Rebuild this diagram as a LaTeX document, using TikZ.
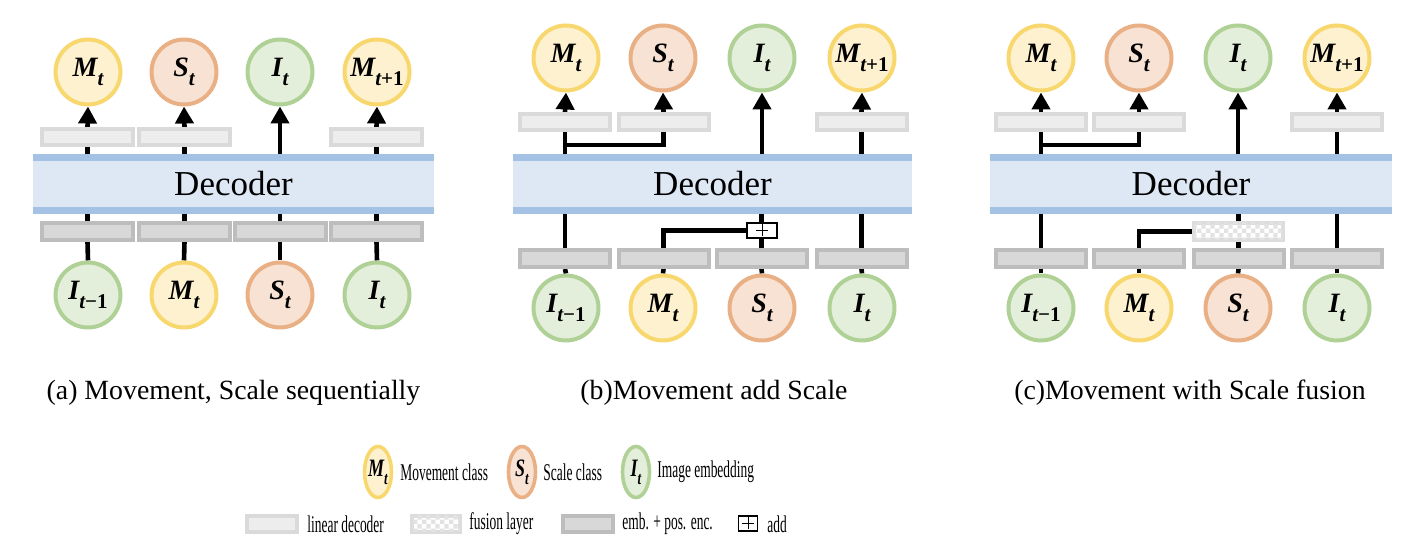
\documentclass[tikz,border=0pt]{standalone}
\usepackage{fontspec}
\setmainfont{Liberation Serif}
\usepackage{graphicx}
\usetikzlibrary{arrows.meta,patterns.meta,shapes.geometric,calc}
\definecolor{Mfill}{HTML}{FDF1CF}
\definecolor{Mdraw}{HTML}{F8D86E}
\definecolor{Sfill}{HTML}{F7E2D4}
\definecolor{Sdraw}{HTML}{EAB085}
\definecolor{Ifill}{HTML}{E3EFDA}
\definecolor{Idraw}{HTML}{B0D196}
\definecolor{bandfill}{HTML}{DEE7F4}
\definecolor{bandline}{HTML}{A4C2E4}
\definecolor{linfill}{HTML}{EDEDED}
\definecolor{lindraw}{HTML}{DADADA}
\definecolor{embfill}{HTML}{D8D8D8}
\definecolor{embdraw}{HTML}{BDBDBD}
\definecolor{fusdraw}{HTML}{DCDCDC}
\definecolor{fuschk}{HTML}{E2E2E2}
\tikzdeclarepattern{name=fchk, type=uncolored,
  bounding box={(0,0) and (4.4pt,4.4pt)}, tile size={(4.4pt,4.4pt)},
  code={\fill (0,0) rectangle (2.2pt,2.2pt); \fill (2.2pt,2.2pt) rectangle (4.4pt,4.4pt);}}
\pgfdeclarelayer{bg}
\pgfsetlayers{bg,main}
% label: bold italic letter with subscript
\newcommand{\lab}[2]{{\bfseries\itshape #1\raisebox{-0.32em}{\fontsize{10.5}{11}\selectfont #2}}}
\newcommand{\llab}[2]{{\bfseries\itshape #1\raisebox{-0.32em}{\fontsize{9}{10}\selectfont #2}}}
\newcommand{\subt}[1]{t{\upshape #1}}
\tikzset{
  circ/.style={circle, line width=2pt, minimum size=32.5pt, inner sep=0pt, font=\fontsize{14}{16}\selectfont},
  mcls/.style={circ, draw=Mdraw, fill=Mfill},
  scls/.style={circ, draw=Sdraw, fill=Sfill},
  icls/.style={circ, draw=Idraw, fill=Ifill},
  linbox/.style={draw=lindraw, fill=linfill, line width=2pt, minimum width=45.5pt, minimum height=8pt, inner sep=0pt},
  embbox/.style={draw=embdraw, fill=embfill, line width=2pt, minimum width=45.5pt, minimum height=8.5pt, inner sep=0pt},
  fusbox/.style={draw=fusdraw, fill=white, line width=2pt, minimum width=44.5pt, minimum height=8.5pt, inner sep=0pt,
     postaction={pattern=fchk, pattern color=fuschk}},
  addbox/.style={draw=black, fill=white, line width=0.8pt, minimum width=15pt, minimum height=7.5pt, inner sep=0pt,
     path picture={\draw[line width=0.5pt] ($(path picture bounding box.center)+(-3.2pt,0)$) -- ++(6.4pt,0);
                   \draw[line width=0.5pt] ($(path picture bounding box.center)+(0,-3pt)$) -- ++(0,6pt);}},
  bandbox/.style={fill=bandfill, inner sep=0pt, minimum height=29.5pt, font=\fontsize{17.5}{19}\selectfont},
  bandedge/.style={draw=bandline, line width=3.5pt},
  conn/.style={line width=2.3pt},
  arr/.style={conn, -{Triangle[width=9pt,length=8.5pt]}},
  capt/.style={font=\fontsize{13.9}{16}\selectfont},
  legtxt/.style={anchor=west, inner sep=0pt, font=\fontsize{12}{14}\selectfont},
  legell/.style={ellipse, line width=1.8pt, minimum width=13.5pt, minimum height=25.5pt, inner sep=0pt},
  leglab/.style={inner sep=0pt, font=\fontsize{12.5}{14}\selectfont}
}
\begin{document}
\begin{tikzpicture}[x=0.5pt,y=-0.5pt]
\useasboundingbox (0,0) rectangle (1414,550);
% ================= Panel (a) =================
\node[bandbox, minimum width=200.5pt] (bandA) at (233.5,183.5) {Decoder};
\draw[bandedge] ($(bandA.north west)+(0,3.5)$) -- ($(bandA.north east)+(0,3.5)$);
\draw[bandedge] ($(bandA.south west)+(0,-3)$) -- ($(bandA.south east)+(0,-3)$);
\node[mcls] (aM) at (88,72) {\lab{M}{t}};
\node[scls] (aS) at (184,72) {\lab{S}{t}};
\node[icls] (aI) at (280,72) {\lab{I}{t}};
\node[mcls] (aM1) at (377,72) {\lab{M}{\subt{+1}}};
\node[linbox] (aL1) at (87.5,137) {};
\node[linbox] (aL2) at (184.5,137) {};
\node[linbox] (aL4) at (376.5,137) {};
\node[embbox] (aE1) at (87.5,231.5) {};
\node[embbox] (aE2) at (184.5,231.5) {};
\node[embbox] (aE3) at (280,231.5) {};
\node[embbox] (aE4) at (376.5,231.5) {};
\node[icls] (aB1) at (88,295) {\lab{I}{\subt{−1}}};
\node[mcls] (aB2) at (184,295) {\lab{M}{t}};
\node[scls] (aB3) at (280,295) {\lab{S}{t}};
\node[icls] (aB4) at (377,295) {\lab{I}{t}};
\begin{pgfonlayer}{bg}
\draw[conn] (bandA.north -| aL1) -- (aL1.south);
\draw[arr] (aL1.north) -- (aM.south);
\draw[conn] (bandA.north -| aL2) -- (aL2.south);
\draw[arr] (aL2.north) -- (aS.south);
\draw[arr] (bandA.north -| aI) -- (aI.south);
\draw[conn] (bandA.north -| aL4) -- (aL4.south);
\draw[arr] (aL4.north) -- (aM1.south);
\draw[conn] (aB1.north) -- (aE1.south);
\draw[conn] (aE1.north) -- (bandA.south -| aE1);
\draw[conn] (aB2.north) -- (aE2.south);
\draw[conn] (aE2.north) -- (bandA.south -| aE2);
\draw[conn] (aB3.north) -- (aE3.south);
\draw[conn] (aE3.north) -- (bandA.south -| aE3);
\draw[conn] (aB4.north) -- (aE4.south);
\draw[conn] (aE4.north) -- (bandA.south -| aE4);
\end{pgfonlayer}
\node[capt] (capA) at (233.5,393) {(a) Movement, Scale sequentially};
% ================= Panel (b) =================
\node[bandbox, minimum width=199.5pt] (bandB) at (712.5,184) {Decoder};
\draw[bandedge] ($(bandB.north west)+(0,3.5)$) -- ($(bandB.north east)+(0,3.5)$);
\draw[bandedge] ($(bandB.south west)+(0,-3)$) -- ($(bandB.south east)+(0,-3)$);
\node[mcls] (bM) at (566,58) {\lab{M}{t}};
\node[scls] (bS) at (663,58) {\lab{S}{t}};
\node[icls] (bI) at (762,58) {\lab{I}{t}};
\node[mcls] (bM1) at (862,58) {\lab{M}{\subt{+1}}};
\node[linbox, minimum width=45pt] (bL1) at (565,122) {};
\node[linbox, minimum width=45pt] (bL2) at (663.5,122) {};
\node[linbox, minimum width=45pt] (bL4) at (861.5,122) {};
\node[embbox, minimum width=45pt] (bE1) at (565,258.5) {};
\node[embbox, minimum width=45pt] (bE2) at (663.5,258.5) {};
\node[embbox, minimum width=45pt] (bE3) at (761.5,258.5) {};
\node[embbox, minimum width=45pt] (bE4) at (861.5,258.5) {};
\node[addbox] (bP) at (762,230.5) {};
\node[icls] (bB1) at (566,308) {\lab{I}{\subt{−1}}};
\node[mcls] (bB2) at (663,308) {\lab{M}{t}};
\node[scls] (bB3) at (762,308) {\lab{S}{t}};
\node[icls] (bB4) at (862,308) {\lab{I}{t}};
\coordinate (bJ) at (566,145);
\begin{pgfonlayer}{bg}
\draw[conn] (bandB.north -| bL1) -- (bL1.south);
\draw[arr] (bL1.north) -- (bM.south);
\draw[conn] (bJ) -| (bL2.south);
\draw[arr] (bL2.north) -- (bS.south);
\draw[arr] (bandB.north -| bI) -- (bI.south);
\draw[conn] (bandB.north -| bL4) -- (bL4.south);
\draw[arr] (bL4.north) -- (bM1.south);
\draw[conn] (bB1.north) -- (bE1.south);
\draw[conn] (bE1.north) -- (bandB.south -| bE1);
\draw[conn] (bB2.north) -- (bE2.south);
\draw[conn] (bE2.north) |- (bP.west);
\draw[conn] (bB3.north) -- (bE3.south);
\draw[conn] (bE3.north) -- (bP.south -| bE3);
\draw[conn] (bP.north -| bE3) -- (bandB.south -| bE3);
\draw[conn] (bB4.north) -- (bE4.south);
\draw[conn] (bE4.north) -- (bandB.south -| bE4);
\end{pgfonlayer}
\node[capt] (capB) at (714,393) {(b)Movement add Scale};
% ================= Panel (c) =================
\node[bandbox, minimum width=201pt] (bandC) at (1191,184) {Decoder};
\draw[bandedge] ($(bandC.north west)+(0,3.5)$) -- ($(bandC.north east)+(0,3.5)$);
\draw[bandedge] ($(bandC.south west)+(0,-3)$) -- ($(bandC.south east)+(0,-3)$);
\node[mcls] (cM) at (1041,58) {\lab{M}{t}};
\node[scls] (cS) at (1139,58) {\lab{S}{t}};
\node[icls] (cI) at (1238,58) {\lab{I}{t}};
\node[mcls] (cM1) at (1337,58) {\lab{M}{\subt{+1}}};
\node[linbox, minimum width=45pt] (cL1) at (1041,122) {};
\node[linbox, minimum width=45pt] (cL2) at (1139,122) {};
\node[linbox, minimum width=45pt] (cL4) at (1337,122) {};
\node[embbox, minimum width=45pt] (cE1) at (1041,258.5) {};
\node[embbox, minimum width=45pt] (cE2) at (1139,258.5) {};
\node[embbox, minimum width=45pt] (cE3) at (1238.5,258.5) {};
\node[embbox, minimum width=45pt] (cE4) at (1337,258.5) {};
\node[fusbox] (cF) at (1238.5,231.5) {};
\node[icls] (cB1) at (1041,308) {\lab{I}{\subt{−1}}};
\node[mcls] (cB2) at (1139,308) {\lab{M}{t}};
\node[scls] (cB3) at (1238,308) {\lab{S}{t}};
\node[icls] (cB4) at (1337,308) {\lab{I}{t}};
\coordinate (cJ) at (1041,145);
\begin{pgfonlayer}{bg}
\draw[conn] (bandC.north -| cL1) -- (cL1.south);
\draw[arr] (cL1.north) -- (cM.south);
\draw[conn] (cJ) -| (cL2.south);
\draw[arr] (cL2.north) -- (cS.south);
\draw[arr] (bandC.north -| cI) -- (cI.south);
\draw[conn] (bandC.north -| cL4) -- (cL4.south);
\draw[arr] (cL4.north) -- (cM1.south);
\draw[conn] (cB1.north) -- (cE1.south);
\draw[conn] (cE1.north) -- (bandC.south -| cE1);
\draw[conn] (cB2.north) -- (cE2.south);
\draw[conn] (cE2.north) |- (cF.west);
\draw[conn] (cB3.north) -- (cE3.south);
\draw[conn] (cE3.north) -- (cF.south -| cE3);
\draw[conn] (cF.north -| cE3) -- (bandC.south -| cE3);
\draw[conn] (cB4.north) -- (cE4.south);
\draw[conn] (cE4.north) -- (bandC.south -| cE4);
\end{pgfonlayer}
\node[capt] (capC) at (1190,393) {(c)Movement with Scale fusion};
% ================= Legend =================
\node[legell, draw=Mdraw, fill=Mfill] (lM) at (378,472) {};
\node[leglab] (lMt) at (lM) {\scalebox{0.72}[1]{\llab{M}{t}}};
\node[legtxt] (tM) at (400,472) {\scalebox{0.56}[1]{Movement class}};
\node[legell, draw=Sdraw, fill=Sfill] (lS) at (522,472) {};
\node[leglab] (lSt) at (lS) {\scalebox{0.72}[1]{\llab{S}{t}}};
\node[legtxt] (tS) at (543,472) {\scalebox{0.56}[1]{Scale class}};
\node[legell, draw=Idraw, fill=Ifill] (lI) at (636,472) {};
\node[leglab] (lIt) at (lI) {\scalebox{0.72}[1]{\llab{I}{t}}};
\node[legtxt] (tI) at (657,472) {\scalebox{0.56}[1]{Image embedding}};
\node[linbox, minimum width=25pt] (lL) at (272,524) {};
\node[legtxt] (tL) at (307,524) {\scalebox{0.56}[1]{linear decoder}};
\node[fusbox, minimum width=24pt, minimum height=8pt] (lF) at (436,524) {};
\node[legtxt] (tF) at (469,524) {\scalebox{0.56}[1]{fusion layer}};
\node[embbox, minimum width=25pt, minimum height=8pt] (lE) at (588,524) {};
\node[legtxt] (tE) at (622,524) {\scalebox{0.56}[1]{emb. + pos. enc.}};
\node[addbox, minimum width=9.5pt] (lP) at (748,523.5) {};
\node[legtxt] (tP) at (767,524) {\scalebox{0.56}[1]{add}};
\end{tikzpicture}
\end{document}
